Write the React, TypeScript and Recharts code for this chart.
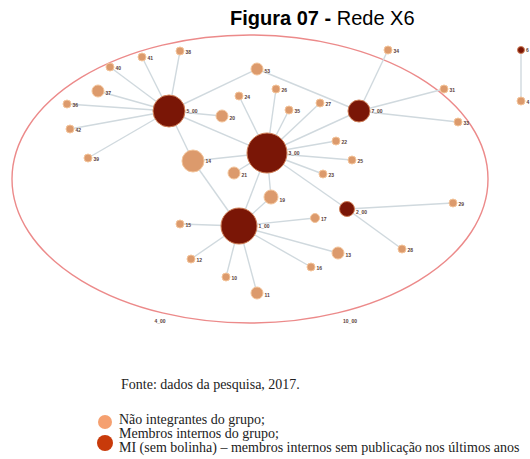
import { Scatter, ScatterChart, XAxis, YAxis } from "recharts";

// network layout (x, y in figure coordinates)
const memberNodes = [
  { id: "5_00", x: 169, y: 111, size: 32 },
  { id: "3_00", x: 267, y: 153, size: 40 },
  { id: "1_00", x: 239, y: 226, size: 36 },
  { id: "7_00", x: 359, y: 111, size: 22 },
  { id: "2_00", x: 347, y: 209, size: 15 },
  { id: "6", x: 521, y: 50, size: 7 },
];

const outsideNodes = [
  { id: "38", x: 180, y: 51, size: 8 },
  { id: "41", x: 142, y: 57, size: 8 },
  { id: "40", x: 110, y: 67, size: 8 },
  { id: "37", x: 98, y: 91, size: 12 },
  { id: "36", x: 67, y: 104, size: 8 },
  { id: "42", x: 70, y: 129, size: 8 },
  { id: "39", x: 88, y: 158, size: 8 },
  { id: "20", x: 222, y: 116, size: 12 },
  { id: "53", x: 257, y: 69, size: 12 },
  { id: "24", x: 239, y: 96, size: 8 },
  { id: "26", x: 276, y: 89, size: 8 },
  { id: "35", x: 289, y: 110, size: 8 },
  { id: "27", x: 320, y: 103, size: 8 },
  { id: "22", x: 336, y: 141, size: 8 },
  { id: "34", x: 388, y: 50, size: 8 },
  { id: "31", x: 444, y: 89, size: 8 },
  { id: "33", x: 458, y: 122, size: 8 },
  { id: "14", x: 193, y: 161, size: 22 },
  { id: "21", x: 234, y: 173, size: 12 },
  { id: "25", x: 352, y: 160, size: 8 },
  { id: "23", x: 323, y: 174, size: 8 },
  { id: "19", x: 271, y: 197, size: 14 },
  { id: "29", x: 453, y: 203, size: 8 },
  { id: "28", x: 402, y: 249, size: 8 },
  { id: "15", x: 180, y: 224, size: 8 },
  { id: "17", x: 315, y: 218, size: 9 },
  { id: "13", x: 338, y: 253, size: 12 },
  { id: "16", x: 311, y: 267, size: 8 },
  { id: "12", x: 191, y: 259, size: 8 },
  { id: "10", x: 226, y: 277, size: 8 },
  { id: "11", x: 257, y: 293, size: 12 },
  { id: "4", x: 521, y: 101, size: 8 },
];

const edges: [string, string][] = [
  ["5_00", "38"], ["5_00", "41"], ["5_00", "40"], ["5_00", "37"],
  ["5_00", "36"], ["5_00", "42"], ["5_00", "39"], ["5_00", "20"],
  ["5_00", "53"], ["5_00", "3_00"], ["5_00", "14"],
  ["53", "7_00"],
  ["3_00", "24"], ["3_00", "26"], ["3_00", "35"], ["3_00", "27"],
  ["3_00", "22"], ["3_00", "25"], ["3_00", "23"], ["3_00", "21"],
  ["3_00", "14"], ["3_00", "19"], ["3_00", "1_00"], ["3_00", "2_00"],
  ["3_00", "7_00"],
  ["7_00", "34"], ["7_00", "31"], ["7_00", "33"],
  ["2_00", "29"], ["2_00", "28"],
  ["1_00", "15"], ["1_00", "17"], ["1_00", "13"], ["1_00", "16"],
  ["1_00", "12"], ["1_00", "10"], ["1_00", "11"], ["1_00", "19"],
  ["1_00", "14"],
  ["6", "4"],
];

// isolated labels under the ellipse
const looseLabels = [
  { id: "4_00", x: 160, y: 323 },
  { id: "10_00", x: 350, y: 323 },
];

const groupEllipse = [{ x: 250, y: 179 }];

const allNodes = [...memberNodes, ...outsideNodes];
const findNode = (id: string) => allNodes.find((n) => n.id === id)!;

const W = 530;
const H = 459;

function makeNodeShape(fill: string, stroke: string) {
  return (props: any) => {
    const { cx, cy, payload } = props;
    const r = payload.size / 2;
    const big = r > 9;
    return (
      <g>
        <circle cx={cx} cy={cy} r={r} fill={fill} stroke={stroke} strokeWidth={1} />
        <text
          x={cx + r + 1.5}
          y={big ? cy + 2 : cy + r * 0.7}
          fontSize={5}
          fontWeight="bold"
          fill="#5a4038"
          fontFamily="Liberation Sans, Arial, sans-serif"
        >
          {payload.id}
        </text>
      </g>
    );
  };
}

const ellipseShape = (props: any) => (
  <ellipse cx={props.cx} cy={props.cy} rx={238} ry={144} fill="none" stroke="#ec8a8a" strokeWidth={1.4} />
);

const textShape = (props: any) => (
  <text x={props.cx} y={props.cy} fontSize={5} fontWeight="bold" fill="#5a4038" textAnchor="middle"
    fontFamily="Liberation Sans, Arial, sans-serif">
    {props.payload.id}
  </text>
);

const emptyShape = () => <g />;

export default function App() {
  return (
    <div style={{ position: "absolute", left: 0, top: 0, width: W, height: H, background: "#fff", overflow: "hidden" }}>
      <ScatterChart width={W} height={H} margin={{ top: 0, right: 0, bottom: 0, left: 0 }}>
        <XAxis type="number" dataKey="x" domain={[0, W]} hide />
        <YAxis type="number" dataKey="y" domain={[0, H]} reversed hide />
        <Scatter data={groupEllipse} shape={ellipseShape} isAnimationActive={false} />
        {edges.map(([a, b]) => (
          <Scatter
            key={a + "-" + b}
            data={[findNode(a), findNode(b)]}
            line={{ stroke: "#d0d9de", strokeWidth: 1.4 }}
            shape={emptyShape}
            isAnimationActive={false}
          />
        ))}
        <Scatter data={outsideNodes} shape={makeNodeShape("#dc9a6c", "#f3c49a")} isAnimationActive={false} />
        <Scatter data={memberNodes} shape={makeNodeShape("#7a1606", "#d08058")} isAnimationActive={false} />
        <Scatter data={looseLabels} shape={textShape} isAnimationActive={false} />
      </ScatterChart>

      <div
        style={{
          position: "absolute", left: 230, top: 7, fontFamily: "Liberation Sans, Arial, sans-serif",
          fontSize: 20, whiteSpace: "nowrap", color: "#000",
        }}
      >
        <b>Figura 07 -</b> Rede X6
      </div>

      <div
        style={{
          position: "absolute", left: 121, top: 377, fontFamily: "Liberation Serif, Times New Roman, serif",
          fontSize: 14, whiteSpace: "nowrap", color: "#222",
        }}
      >
        Fonte: dados da pesquisa, 2017.
      </div>
      <div style={{ position: "absolute", left: 98, top: 415, width: 14, height: 14, borderRadius: 7, background: "#f5a070" }} />
      <div style={{ position: "absolute", left: 97, top: 435, width: 16, height: 16, borderRadius: 8, background: "#c83a0a" }} />
      <div
        style={{
          position: "absolute", left: 119, top: 413, fontFamily: "Liberation Serif, Times New Roman, serif",
          fontSize: 14, lineHeight: "14px", whiteSpace: "nowrap", color: "#222",
        }}
      >
        <div>Não integrantes do grupo;</div>
        <div>Membros internos do grupo;</div>
        <div>MI (sem bolinha) – membros internos sem publicação nos últimos anos</div>
      </div>
    </div>
  );
}
